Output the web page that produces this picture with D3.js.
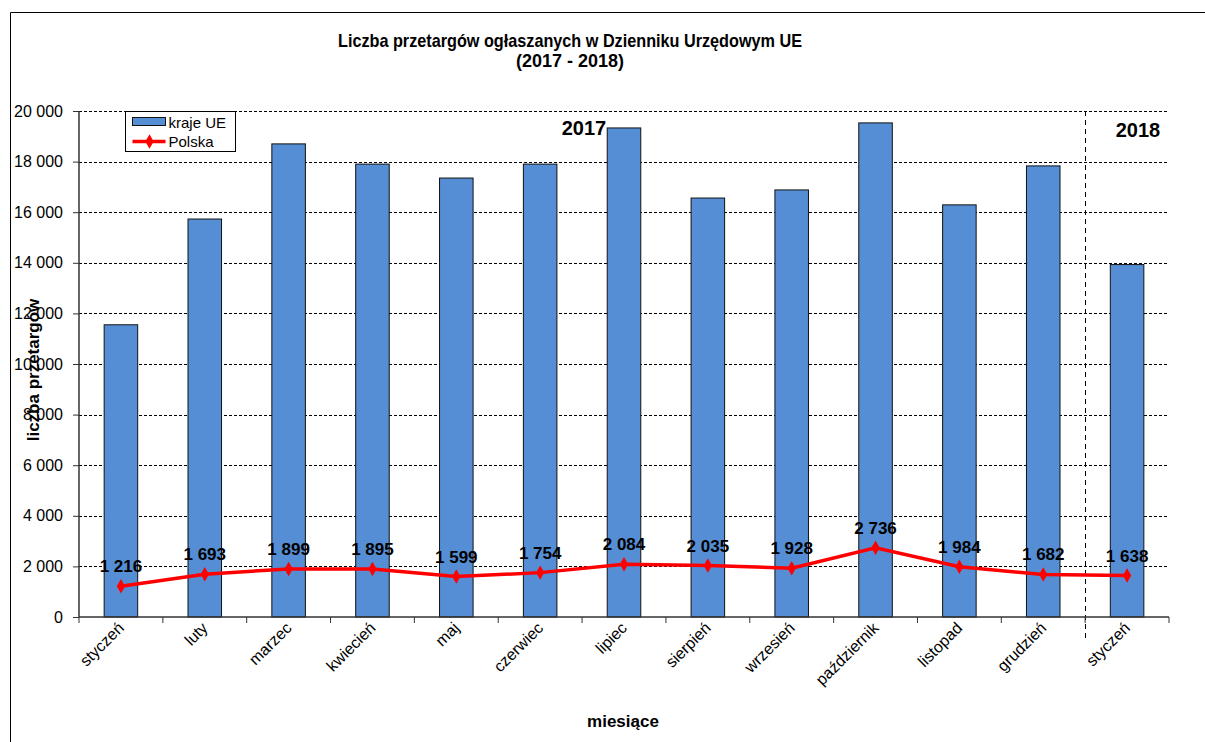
<!DOCTYPE html>
<html>
<head>
<meta charset="utf-8">
<title>Liczba przetargów</title>
<script src="https://cdn.jsdelivr.net/npm/d3@7"></script>
<style>
  body { margin: 0; background: #fff; }
  text { font-family: "Liberation Sans", Arial, sans-serif; }
</style>
</head>
<body>
<script>
// dane
var months = ["styczeń", "luty", "marzec", "kwiecień", "maj", "czerwiec", "lipiec",
              "sierpień", "wrzesień", "październik", "listopad", "grudzień", "styczeń "];
var krajeUE = [11550, 15730, 18700, 17900, 17350, 17900, 19330, 16560, 16880, 19530, 16290, 17830, 13930];
var polska = [1216, 1693, 1899, 1895, 1599, 1754, 2084, 2035, 1928, 2736, 1984, 1682, 1638];
var yTicks = [0, 2000, 4000, 6000, 8000, 10000, 12000, 14000, 16000, 18000, 20000];

var W = 1205, H = 742;
var pLeft = 79, pRight = 1169, pTop = 111, pBottom = 617;

var svg = d3.select("body").append("svg")
    .attr("width", W).attr("height", H);

// ramka (widoczna lewa i górna krawędź)
svg.append("path")
    .attr("d", "M10.5," + H + "V12.5H" + W)
    .attr("fill", "none").attr("stroke", "#000").attr("stroke-width", 1);

var x = d3.scaleBand().domain(d3.range(months.length)).range([pLeft, pRight]).paddingInner(0.6).paddingOuter(0.3);
var xb = d3.scaleBand().domain(d3.range(months.length)).range([pLeft, pRight]);
var y = d3.scaleLinear().domain([0, 20000]).range([pBottom, pTop]);

var fmt = function(v) { return d3.format(",")(v).replace(/,/g, " "); };

// linie siatki
svg.append("g").selectAll("line").data(yTicks.filter(function(d) { return d > 0; }))
  .enter().append("line")
    .attr("x1", pLeft).attr("x2", pRight)
    .attr("y1", function(d) { return Math.round(y(d)) + 0.5; })
    .attr("y2", function(d) { return Math.round(y(d)) + 0.5; })
    .attr("stroke", "#000").attr("stroke-dasharray", "3,2").attr("stroke-width", 1);

// słupki
svg.append("g").selectAll("rect").data(krajeUE).enter().append("rect")
    .attr("x", function(d, i) { return x(i); })
    .attr("width", x.bandwidth())
    .attr("y", function(d) { return y(d); })
    .attr("height", function(d) { return pBottom - y(d); })
    .attr("fill", "#558ed5").attr("stroke", "#111").attr("stroke-width", 1);

// linia podziału 2017/2018
var divX = Math.round(xb(12)) + 0.5;
svg.append("line")
    .attr("x1", divX).attr("x2", divX).attr("y1", pTop).attr("y2", 638)
    .attr("stroke", "#000").attr("stroke-dasharray", "5,4").attr("stroke-width", 1);

// oś Y
var yAxis = d3.axisLeft(y).tickValues(yTicks).tickSize(6).tickFormat(fmt);
var gy = svg.append("g").attr("transform", "translate(" + pLeft + ",0)").call(yAxis);
gy.select(".domain").attr("stroke", "#333").attr("stroke-width", 1.5).attr("d", "M0," + pBottom + "V" + pTop);
gy.selectAll(".tick line").attr("stroke", "#333").attr("x1", -6).attr("x2", 0);
gy.selectAll(".tick text").attr("x", -16).attr("font-size", 16).attr("font-family", "Liberation Sans, Arial, sans-serif").attr("fill", "#000");

// oś X
svg.append("line").attr("x1", pLeft).attr("x2", pRight).attr("y1", pBottom).attr("y2", pBottom)
    .attr("stroke", "#333").attr("stroke-width", 1.5);
svg.append("g").selectAll("line").data(d3.range(months.length + 1)).enter().append("line")
    .attr("x1", function(i) { return pLeft + i * xb.bandwidth(); })
    .attr("x2", function(i) { return pLeft + i * xb.bandwidth(); })
    .attr("y1", pBottom).attr("y2", pBottom + 6)
    .attr("stroke", "#333");

svg.append("g").selectAll("text").data(months).enter().append("text")
    .attr("transform", function(d, i) {
        var cx = xb(i) + xb.bandwidth() / 2 + 4;
        return "translate(" + cx + "," + (pBottom + 12) + ") rotate(-45)";
    })
    .attr("text-anchor", "end").attr("font-size", 16)
    .text(function(d) { return d.trim(); });

// linia Polska
var px = function(i) { return xb(i) + xb.bandwidth() / 2; };
var line = d3.line().x(function(d, i) { return px(i); }).y(function(d) { return y(d); });
svg.append("path").datum(polska).attr("d", line)
    .attr("fill", "none").attr("stroke", "#ff0000").attr("stroke-width", 3.5);
var diamond = d3.symbol().type(d3.symbolDiamond).size(60);
svg.append("g").selectAll("path").data(polska).enter().append("path")
    .attr("d", diamond)
    .attr("transform", function(d, i) { return "translate(" + px(i) + "," + y(d) + ")"; })
    .attr("fill", "#ff0000");

svg.append("g").selectAll("text").data(polska).enter().append("text")
    .attr("x", function(d, i) { return px(i); })
    .attr("y", function(d) { return y(d) - 14; })
    .attr("text-anchor", "middle").attr("font-size", 17).attr("font-weight", "bold")
    .text(function(d) { return fmt(d); });

// lata
svg.append("text").attr("x", 584).attr("y", 135).attr("text-anchor", "middle")
    .attr("font-size", 20).attr("font-weight", "bold").text("2017");
svg.append("text").attr("x", 1138).attr("y", 137).attr("text-anchor", "middle")
    .attr("font-size", 20).attr("font-weight", "bold").text("2018");

// tytuł
svg.append("text").attr("x", 570).attr("y", 47).attr("text-anchor", "middle")
    .attr("font-size", 19).attr("font-weight", "bold")
    .attr("textLength", 464).attr("lengthAdjust", "spacingAndGlyphs")
    .text("Liczba przetargów ogłaszanych w Dzienniku Urzędowym UE");
svg.append("text").attr("x", 570).attr("y", 67).attr("text-anchor", "middle")
    .attr("font-size", 19).attr("font-weight", "bold")
    .attr("textLength", 108).attr("lengthAdjust", "spacingAndGlyphs")
    .text("(2017 - 2018)");

// tytuły osi
svg.append("text").attr("transform", "translate(39,370) rotate(-90)")
    .attr("text-anchor", "middle").attr("font-size", 17).attr("font-weight", "bold")
    .text("liczba przetargów");
svg.append("text").attr("x", 623).attr("y", 727).attr("text-anchor", "middle")
    .attr("font-size", 17).attr("font-weight", "bold").text("miesiące");

// legenda
var lg = svg.append("g").attr("transform", "translate(125.5,111.5)");
lg.append("rect").attr("width", 110).attr("height", 40).attr("fill", "#fff").attr("stroke", "#000");
lg.append("rect").attr("x", 7).attr("y", 6).attr("width", 33).attr("height", 8)
    .attr("fill", "#558ed5").attr("stroke", "#111");
lg.append("text").attr("x", 43).attr("y", 16).attr("font-size", 15).text("kraje UE");
lg.append("line").attr("x1", 7).attr("x2", 40).attr("y1", 30).attr("y2", 30)
    .attr("stroke", "#ff0000").attr("stroke-width", 3.5);
lg.append("path").attr("d", diamond).attr("transform", "translate(24,30)").attr("fill", "#ff0000");
lg.append("text").attr("x", 43).attr("y", 35).attr("font-size", 15).text("Polska");
</script>
</body>
</html>
